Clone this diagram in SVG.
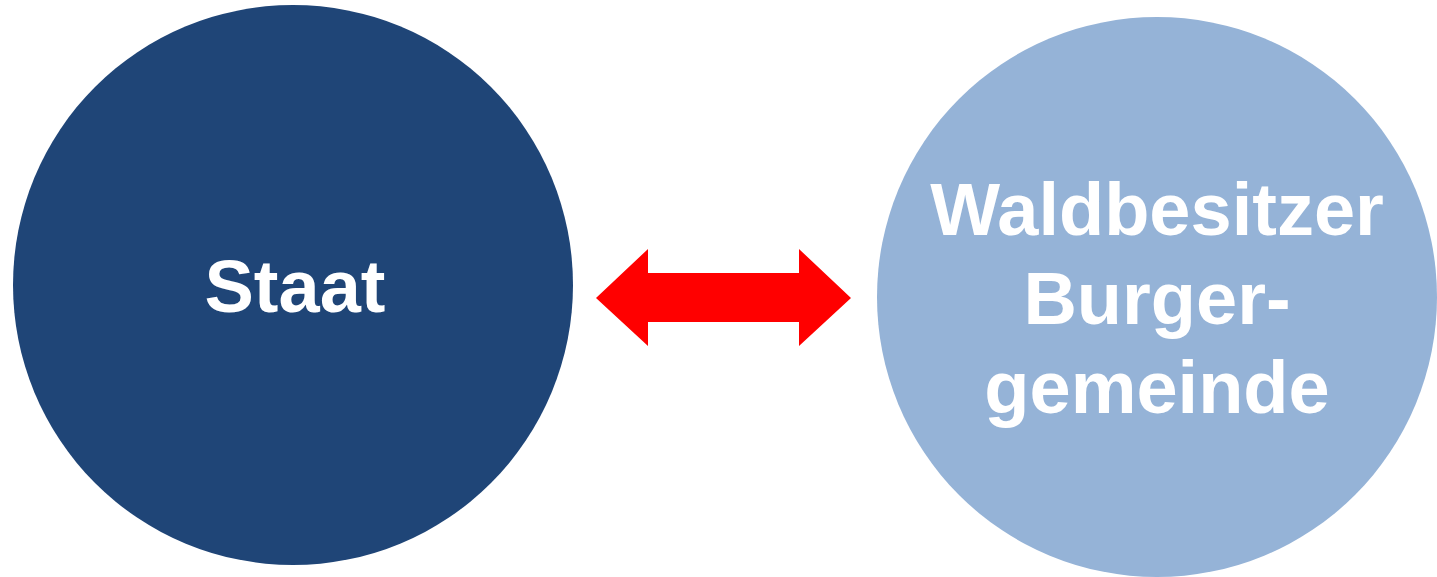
<svg xmlns="http://www.w3.org/2000/svg" width="1437" height="577" viewBox="0 0 1437 577">
<style>
.lbl{font-family:"Liberation Sans",Arial,sans-serif;font-weight:bold;font-size:74px;fill:#ffffff;text-anchor:middle}
</style>
<rect width="1437" height="577" fill="#ffffff"/>
<g id="staat">
<circle cx="293" cy="285" r="280" fill="#1F4577"/>
<text class="lbl" x="295" y="312">Staat</text>
</g>
<g id="waldbesitzer">
<circle cx="1157" cy="297" r="280" fill="#95B3D7"/>
<text class="lbl" x="1157" y="235">Waldbesitzer</text>
<text class="lbl" x="1157" y="324">Burger-</text>
<text class="lbl" x="1157" y="413">gemeinde</text>
</g>
<g id="connectors">
<polygon points="596,298 648,249 648,273 799,273 799,249 851,298 799,346 799,322 648,322 648,346" fill="#FF0000"/>
</g>
</svg>
